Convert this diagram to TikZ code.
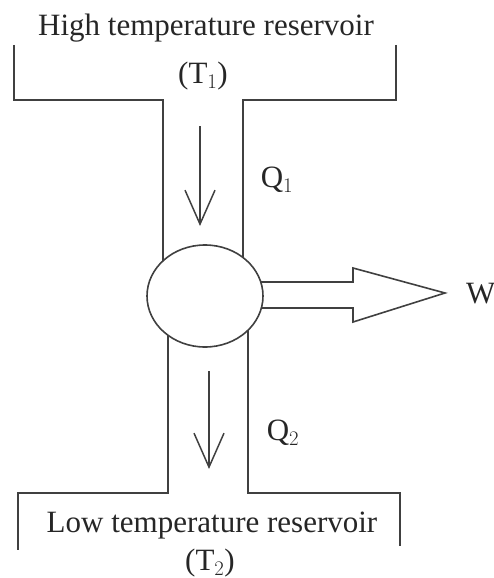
\documentclass[tikz,border=0pt]{standalone}
\usepackage{fontspec}
\setmainfont{Liberation Serif}
\usetikzlibrary{arrows.meta,shapes.geometric}
\begin{document}
\begin{tikzpicture}[x=1pt,y=-1pt,
  wall/.style={draw=black!75,line width=1.6pt},
  flow/.style={draw=black!75,line width=1.5pt,-{Straight Barb[length=34pt,width=30pt,line width=1.5pt]}},
  label/.style={font=\fontsize{31}{36}\selectfont,inner sep=0pt,text=black!85},
  engine/.style={ellipse,draw=black!75,line width=1.6pt,minimum width=116pt,minimum height=102pt,inner sep=0pt}]
\useasboundingbox (0,0) rectangle (494,578);
% top reservoir
\node[label] (hot) at (206,28) {High temperature reservoir};
\node[label] (t1) at (203,76) {(T$_1$)};
\draw[wall] (14,45) -- (14,100) -- (163,100) -- (163,261);
\draw[wall] (396,45) -- (396,100) -- (243,100) -- (243,258);
% engine
\node[engine] (eng) at (205,296) {};
% bottom reservoir
\draw[wall] (168,335) -- (168,493) -- (18,493) -- (18,550);
\draw[wall] (248,330) -- (248,493) -- (400,493) -- (400,546);
\node[label] (cold) at (212,526) {Low temperature reservoir};
\node[label] (t2) at (210,563) {(T$_2$)};
% heat flows
\coordinate (a1) at (200,126);
\coordinate (a2) at (200,226);
\draw[flow] (a1) -- (a2);
\node[label] (q1) at (277,180) {Q$_1$};
\coordinate (b1) at (209,371);
\coordinate (b2) at (209,469);
\draw[flow] (b1) -- (b2);
\node[label] (q2) at (283,433) {Q$_2$};
% work arrow
\draw[wall,line join=miter] (261,282) -- (353,282) -- (353,268) -- (445,293) -- (353,322) -- (353,308) -- (261,308);
\node[label,anchor=west] (w) at (466,294) {W};
\end{tikzpicture}
\end{document}
